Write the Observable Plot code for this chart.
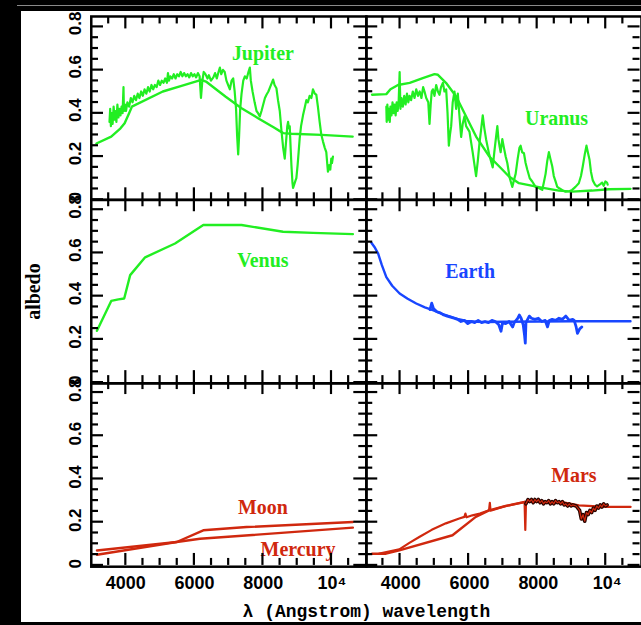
<!DOCTYPE html>
<html>
<head>
<meta charset="utf-8">
<script src="https://cdn.jsdelivr.net/npm/d3@7"></script>
<script src="https://cdn.jsdelivr.net/npm/@observablehq/plot@0.6"></script>
<style>
  html, body { margin: 0; padding: 0; background: #000; width: 641px; height: 625px; overflow: hidden; }
  #rule { position: absolute; left: 17px; top: 5px; width: 624px; height: 1px; background: #8a8a8a; }
  #sheet { position: absolute; left: 21px; top: 11px; width: 620px; height: 611px; overflow: hidden; background: #fff; }
</style>
</head>
<body>
<div id="rule"></div>
<div id="sheet"></div>
<script>
// ---------- tick values & labels ----------
const xMajor = [4000, 6000, 8000, 10000];
const xMinor = [3500, 4500, 5000, 5500, 6500, 7000, 7500, 8500, 9000, 9500, 10500];
const xTickLabels = ["4000", "6000", "8000", "10⁴"];
const yMajor = [0, 0.2, 0.4, 0.6, 0.8];
const yMinor = [0.05, 0.1, 0.15, 0.25, 0.3, 0.35, 0.45, 0.5, 0.55, 0.65, 0.7, 0.75];
const yTickLabels = ["0", "0.2", "0.4", "0.6", "0.8"];

// ---------- panels ----------
const panelCols = ["L", "R"];
const panelRows = [1, 2, 3];

// ---------- series: [wavelength (Å), albedo] ----------
const jupiterModel = [[3150,0.26],[3580,0.292],[3850,0.33],[3970,0.354],[4100,0.40],[4180,0.43],[5080,0.50],[5600,0.525],[6200,0.554],[6335,0.546],[6900,0.477],[7370,0.423],[7850,0.377],[8300,0.335],[8580,0.308],[8820,0.305],[9700,0.30],[10600,0.292]];
const jupiterSpectrum = [[3530,0.36],[3550,0.42],[3570,0.34],[3600,0.40],[3620,0.35],[3650,0.43],[3680,0.37],[3700,0.41],[3730,0.36],[3760,0.44],[3790,0.38],[3820,0.42],[3850,0.39],[3880,0.43],[3910,0.40],[3937,0.52],[3950,0.41],[3980,0.44],[4010,0.41],[4050,0.45],[4100,0.43],[4150,0.47],[4200,0.45],[4250,0.48],[4300,0.46],[4350,0.49],[4400,0.47],[4450,0.50],[4500,0.48],[4550,0.51],[4600,0.49],[4650,0.52],[4700,0.50],[4750,0.53],[4800,0.51],[4850,0.53],[4900,0.52],[4950,0.55],[5000,0.53],[5050,0.55],[5100,0.54],[5150,0.56],[5200,0.54],[5230,0.585],[5260,0.55],[5300,0.57],[5350,0.56],[5400,0.58],[5450,0.56],[5500,0.58],[5550,0.57],[5600,0.59],[5650,0.57],[5700,0.585],[5750,0.57],[5800,0.58],[5850,0.565],[5900,0.585],[5950,0.57],[6000,0.58],[6050,0.565],[6100,0.585],[6150,0.57],[6190,0.47],[6230,0.55],[6270,0.59],[6320,0.58],[6380,0.56],[6420,0.575],[6480,0.55],[6550,0.565],[6600,0.585],[6650,0.56],[6700,0.59],[6740,0.61],[6780,0.58],[6830,0.60],[6880,0.59],[6930,0.55],[6980,0.53],[7030,0.51],[7080,0.55],[7127,0.56],[7170,0.50],[7210,0.42],[7240,0.30],[7272,0.21],[7300,0.30],[7330,0.42],[7370,0.49],[7420,0.55],[7466,0.57],[7520,0.56],[7570,0.59],[7611,0.61],[7640,0.55],[7690,0.50],[7750,0.45],[7805,0.41],[7850,0.40],[7901,0.385],[7950,0.41],[8000,0.44],[8050,0.47],[8095,0.485],[8150,0.50],[8200,0.52],[8250,0.54],[8287,0.555],[8330,0.53],[8384,0.515],[8430,0.46],[8481,0.41],[8530,0.32],[8580,0.24],[8626,0.19],[8660,0.26],[8700,0.34],[8723,0.36],[8750,0.33],[8771,0.34],[8800,0.23],[8820,0.16],[8850,0.08],[8868,0.055],[8900,0.07],[8940,0.09],[8964,0.10],[9000,0.16],[9030,0.22],[9061,0.285],[9100,0.34],[9157,0.39],[9200,0.42],[9254,0.46],[9300,0.45],[9350,0.48],[9400,0.47],[9447,0.51],[9500,0.49],[9544,0.485],[9590,0.43],[9641,0.36],[9690,0.30],[9737,0.27],[9790,0.24],[9834,0.22],[9860,0.17],[9882,0.13],[9920,0.16],[9950,0.14],[9979,0.19],[10000,0.17],[10027,0.20]];

const uranusModel = [[3165,0.485],[3580,0.488],[3700,0.51],[3920,0.53],[4260,0.54],[4640,0.562],[4980,0.58],[5080,0.577],[5320,0.539],[5610,0.477],[5900,0.385],[6190,0.292],[6576,0.20],[6915,0.146],[7147,0.108],[7437,0.077],[8017,0.059],[8597,0.043],[8983,0.038],[9563,0.043],[10047,0.049],[10680,0.051]];
const uranusSpectrum = [[3580,0.43],[3590,0.36],[3610,0.44],[3630,0.37],[3650,0.42],[3680,0.36],[3700,0.43],[3730,0.39],[3760,0.45],[3790,0.40],[3820,0.44],[3850,0.39],[3880,0.45],[3910,0.41],[3940,0.46],[3967,0.59],[3990,0.42],[4020,0.47],[4060,0.43],[4100,0.48],[4140,0.44],[4180,0.49],[4220,0.45],[4256,0.48],[4300,0.46],[4350,0.50],[4400,0.47],[4450,0.51],[4500,0.48],[4550,0.50],[4600,0.47],[4650,0.52],[4690,0.50],[4740,0.47],[4800,0.45],[4836,0.35],[4870,0.44],[4900,0.50],[4934,0.51],[4980,0.48],[5030,0.53],[5080,0.50],[5126,0.485],[5170,0.52],[5224,0.54],[5270,0.50],[5320,0.51],[5360,0.40],[5398,0.25],[5430,0.30],[5465,0.34],[5510,0.45],[5562,0.50],[5610,0.42],[5659,0.49],[5700,0.40],[5755,0.29],[5800,0.35],[5852,0.385],[5900,0.34],[5997,0.315],[6090,0.22],[6190,0.11],[6240,0.18],[6287,0.26],[6340,0.33],[6384,0.39],[6430,0.33],[6480,0.28],[6570,0.21],[6674,0.15],[6720,0.22],[6770,0.29],[6808,0.34],[6840,0.28],[6870,0.25],[6905,0.22],[6953,0.28],[7000,0.24],[7050,0.20],[7098,0.17],[7170,0.10],[7243,0.06],[7290,0.09],[7340,0.12],[7400,0.19],[7450,0.24],[7485,0.25],[7530,0.22],[7582,0.215],[7630,0.17],[7678,0.14],[7750,0.10],[7823,0.085],[7920,0.06],[8017,0.055],[8070,0.05],[8114,0.046],[8160,0.08],[8211,0.12],[8260,0.18],[8307,0.22],[8350,0.19],[8404,0.155],[8450,0.11],[8501,0.085],[8550,0.06],[8597,0.055],[8700,0.045],[8790,0.038],[8900,0.04],[8983,0.046],[9080,0.06],[9177,0.077],[9240,0.11],[9293,0.155],[9350,0.21],[9400,0.25],[9440,0.22],[9489,0.185],[9530,0.13],[9583,0.09],[9650,0.07],[9708,0.062],[9780,0.07],[9853,0.08],[9900,0.065],[9950,0.085],[9998,0.08],[10018,0.07]];

const venusModel = [[3165,0.242],[3580,0.38],[3790,0.387],[3957,0.391],[4131,0.499],[4566,0.581],[5436,0.645],[6257,0.73],[7370,0.73],[8577,0.699],[9447,0.694],[10607,0.688]];

const earthModel = [[3145,0.648],[3250,0.625],[3338,0.60],[3450,0.545],[3580,0.49],[3750,0.45],[3967,0.414],[4200,0.39],[4450,0.368],[4700,0.35],[4933,0.337],[5200,0.32],[5417,0.309],[5650,0.297],[5900,0.288],[6200,0.284],[6500,0.283],[7000,0.284],[8000,0.285],[9000,0.286],[10680,0.286]];
const earthSpectrum = [[4850,0.34],[4900,0.37],[4950,0.345],[5050,0.33],[5150,0.325],[5250,0.315],[5350,0.31],[5450,0.305],[5550,0.30],[5650,0.295],[5750,0.285],[5850,0.29],[5950,0.275],[6050,0.285],[6150,0.28],[6250,0.29],[6350,0.28],[6450,0.285],[6550,0.28],[6650,0.29],[6750,0.285],[6850,0.27],[6915,0.24],[6960,0.28],[7050,0.275],[7150,0.285],[7253,0.26],[7300,0.28],[7400,0.30],[7447,0.315],[7500,0.30],[7560,0.27],[7600,0.22],[7621,0.185],[7640,0.28],[7737,0.31],[7800,0.30],[7900,0.295],[8000,0.30],[8100,0.285],[8200,0.29],[8268,0.26],[8320,0.29],[8400,0.295],[8500,0.29],[8600,0.30],[8700,0.295],[8800,0.31],[8900,0.29],[9000,0.295],[9042,0.29],[9100,0.26],[9138,0.23],[9200,0.25],[9264,0.26]];

const moonModel = [[3165,0.075],[5485,0.114],[6257,0.168],[7515,0.183],[10607,0.206]];
const mercuryModel = [[3165,0.055],[5485,0.114],[6161,0.129],[10607,0.18]];

const marsModel = [[3165,0.06],[3571,0.06],[3957,0.075],[5504,0.145],[6181,0.23],[6567,0.26],[7051,0.28],[7533,0.296],[7727,0.30],[8693,0.298],[9177,0.283],[10000,0.276],[10680,0.276]];
const marsSpectrum = [[3377,0.06],[3957,0.08],[4250,0.11],[4537,0.137],[4900,0.17],[5311,0.20],[5700,0.222],[5850,0.23],[5880,0.245],[5910,0.228],[6083,0.237],[6300,0.245],[6567,0.26],[6590,0.295],[6610,0.258],[6800,0.268],[7051,0.28],[7300,0.288],[7533,0.296],[7600,0.30],[7621,0.17],[7640,0.29]];
const marsNoise = [[7640,0.29],[7700,0.31],[7750,0.30],[7800,0.31],[7850,0.295],[7900,0.31],[7950,0.30],[8000,0.31],[8050,0.295],[8100,0.305],[8150,0.29],[8200,0.30],[8250,0.295],[8300,0.305],[8350,0.29],[8400,0.30],[8450,0.29],[8500,0.305],[8550,0.295],[8600,0.30],[8650,0.29],[8700,0.30],[8750,0.285],[8800,0.29],[8850,0.28],[8900,0.29],[8950,0.28],[9000,0.285],[9100,0.28],[9200,0.26],[9250,0.22],[9300,0.24],[9350,0.21],[9400,0.25],[9450,0.24],[9500,0.26],[9550,0.25],[9600,0.27],[9650,0.26],[9700,0.28],[9750,0.27],[9800,0.285],[9850,0.275],[9900,0.29],[9950,0.28],[10000,0.285]];

// ---------- planet name labels ----------
const labelNames = ["Jupiter", "Uranus", "Venus", "Earth", "Moon", "Mercury", "Mars"];
const labelCols  = ["L", "R", "L", "R", "L", "L", "R"];
const labelRows  = [1, 1, 2, 2, 3, 3, 3];
const labelX     = [7990, 8530, 7990, 6016, 7990, 9012, 9032];
const labelY     = [0.674, 0.373, 0.568, 0.517, 0.273, 0.08, 0.422];

// ---------- styles ----------
const GREEN = "#22ee22", BLUE = "#1846ff", RED = "#d0280e", INK = "#000";
const labelColor = {Jupiter: GREEN, Uranus: GREEN, Venus: GREEN, Earth: BLUE, Moon: RED, Mercury: RED, Mars: RED};
const W = 622, H = 611, ML = 70, MR = 0, MT = 4, MB = 54;
const MAJOR_LEN = 12, MINOR_LEN = 7;

// ---------- tables built from the arrays ----------
const tab = (arr, col, row) => arr.map(([x, y]) => ({x, y, col, row}));
const labels = labelNames.map((n, i) => ({name: n, col: labelCols[i], row: labelRows[i], x: labelX[i], y: labelY[i], color: labelColor[n]}));
const xLabelRows = panelCols.flatMap(c => xMajor.map((v, i) => ({col: c, row: 3, x: v, text: xTickLabels[i]})));
const yLabelRows = panelRows.flatMap(r => yMajor.map((v, i) => ({col: "L", row: r, y: v, text: yTickLabels[i]})));

const ln = (arr, col, row, stroke, strokeWidth) =>
  Plot.line(tab(arr, col, row), {x: "x", y: "y", fx: "col", fy: "row", stroke, strokeWidth, strokeLinejoin: "round"});

const chart = Plot.plot({
  width: W,
  height: H,
  marginLeft: ML,
  marginRight: MR,
  marginTop: MT,
  marginBottom: MB,
  style: {background: "white", overflow: "visible"},
  x: {domain: [3000, 11000], axis: null},
  y: {domain: [0, 0.846], axis: null},
  fx: {domain: panelCols, padding: 0, axis: null},
  fy: {domain: panelRows, padding: 0, axis: null},
  color: {type: "identity"},
  marks: [
    ln(jupiterSpectrum, "L", 1, GREEN, 2.2),
    ln(jupiterModel, "L", 1, GREEN, 2.4),
    ln(uranusSpectrum, "R", 1, GREEN, 2.2),
    ln(uranusModel, "R", 1, GREEN, 2.4),
    ln(venusModel, "L", 2, GREEN, 2.4),
    ln(earthSpectrum, "R", 2, BLUE, 2.8),
    ln(earthModel, "R", 2, BLUE, 2.4),
    ln(moonModel, "L", 3, RED, 2.4),
    ln(mercuryModel, "L", 3, RED, 2.4),
    ln(marsModel, "R", 3, RED, 2.4),
    ln(marsSpectrum, "R", 3, RED, 2.2),
    ln(marsNoise, "R", 3, "#2a0500", 3.6),
    ln(marsNoise, "R", 3, RED, 1.2),
    Plot.frame({stroke: INK, strokeWidth: 2.5}),
    Plot.text(labels, {x: "x", y: "y", fx: "col", fy: "row", text: "name", fill: "color",
      fontFamily: "Liberation Serif", fontWeight: "bold", fontSize: 20, textAnchor: "middle", lineAnchor: "middle"}),
    Plot.text(xLabelRows, {x: "x", fx: "col", fy: "row", text: "text", frameAnchor: "bottom", dy: 17,
      fontFamily: "Liberation Sans", fontWeight: "bold", fontSize: 18, fill: INK, textAnchor: "middle", lineAnchor: "middle"}),
    Plot.text(yLabelRows, {y: "y", fx: "col", fy: "row", text: "text", frameAnchor: "left", dx: -16, dy: -3, rotate: -90,
      fontFamily: "Liberation Sans", fontWeight: "bold", fontSize: 17, fill: INK, textAnchor: "middle", lineAnchor: "middle"}),
    Plot.text([{col: "L", row: 2, t: "albedo"}], {fx: "col", fy: "row", text: "t", frameAnchor: "left", dx: -58, rotate: -90,
      fontFamily: "Liberation Serif", fontWeight: "bold", fontSize: 20, fill: INK, textAnchor: "middle", lineAnchor: "middle"}),
    Plot.text([{col: "L", row: 3, t: "λ (Angstrom) wavelength"}], {fx: "col", fy: "row", text: "t", frameAnchor: "bottom-right", dy: 45,
      fontFamily: "Liberation Mono", fontWeight: "bold", fontSize: 18, fill: INK, textAnchor: "middle", lineAnchor: "middle"})
  ]
});
document.getElementById("sheet").appendChild(chart);

// inward ticks on all four sides of every panel, placed with Plot's own x / y scales
(function addTicks() {
  const xs = chart.scale("x"), ys = chart.scale("y");
  const fracX = v => (xs.apply(v) - xs.range[0]) / (xs.range[1] - xs.range[0]);
  const fracY = v => (ys.apply(v) - ys.range[1]) / (ys.range[0] - ys.range[1]);
  const svgBox = chart.getBoundingClientRect();
  const g = d3.select(chart).append("g").attr("aria-label", "panel ticks")
    .attr("stroke", INK).attr("stroke-width", 2.2).attr("fill", "none");
  chart.querySelectorAll('g[aria-label="frame"] rect').forEach(r => {
    const b = r.getBoundingClientRect();
    const L = b.left - svgBox.left, T = b.top - svgBox.top, Wd = b.width, Ht = b.height;
    for (const [vals, len] of [[xMajor, MAJOR_LEN], [xMinor, MINOR_LEN]]) {
      for (const v of vals) {
        const px = L + fracX(v) * Wd;
        g.append("line").attr("x1", px).attr("x2", px).attr("y1", T).attr("y2", T + len);
        g.append("line").attr("x1", px).attr("x2", px).attr("y1", T + Ht).attr("y2", T + Ht - len);
      }
    }
    for (const [vals, len] of [[yMajor, MAJOR_LEN], [yMinor, MINOR_LEN]]) {
      for (const v of vals) {
        const py = T + fracY(v) * Ht;
        g.append("line").attr("y1", py).attr("y2", py).attr("x1", L).attr("x2", L + len);
        g.append("line").attr("y1", py).attr("y2", py).attr("x1", L + Wd).attr("x2", L + Wd - len);
      }
    }
  });
})();
</script>
</body>
</html>
